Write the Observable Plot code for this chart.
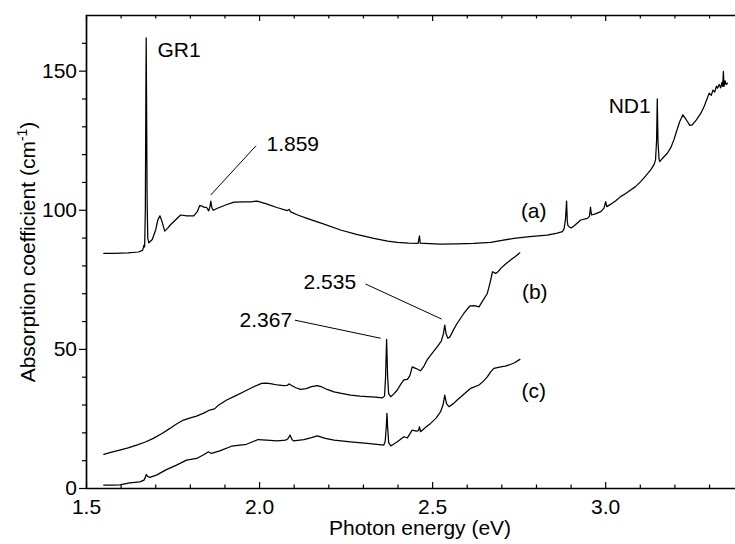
<!DOCTYPE html>
<html>
<head>
<meta charset="utf-8">
<script src="https://cdn.jsdelivr.net/npm/d3@7"></script>
<script src="https://cdn.jsdelivr.net/npm/@observablehq/plot@0.6"></script>
<style>
  html, body { margin: 0; padding: 0; background: #fff; }
</style>
</head>
<body>
<div id="chart"></div>
<script>
// ---- Data ----
const energyA = [1.550,1.580,1.620,1.650,1.662,1.666,1.668,1.670,1.6715,1.6725,1.6735,1.675,1.677,1.680,1.690,1.700,1.706,1.712,1.718,1.726,1.734,1.742,1.757,1.772,1.790,1.810,1.820,1.827,1.834,1.840,1.847,1.853,1.857,1.859,1.862,1.866,1.880,1.900,1.926,1.954,1.974,1.993,2.020,2.050,2.080,2.085,2.090,2.110,2.137,2.180,2.234,2.280,2.330,2.370,2.398,2.430,2.458,2.460,2.462,2.464,2.490,2.523,2.570,2.619,2.668,2.700,2.735,2.780,2.831,2.860,2.875,2.880,2.884,2.887,2.889,2.891,2.894,2.900,2.910,2.928,2.947,2.953,2.956,2.959,2.970,2.986,2.995,3.000,3.003,3.015,3.030,3.043,3.058,3.072,3.086,3.101,3.115,3.130,3.140,3.144,3.147,3.149,3.151,3.154,3.156,3.165,3.178,3.188,3.197,3.205,3.214,3.223,3.230,3.236,3.243,3.250,3.262,3.275,3.285,3.299,3.305,3.310,3.315,3.320,3.323,3.328,3.332,3.336,3.338,3.340,3.342,3.345,3.348,3.352];
const absA = [84.5,84.5,84.7,85.0,85.6,87.5,86.8,100,140,162,140,105,90,88.3,89.5,93,96.5,98,96,92.5,93.5,94.7,96.5,98.3,98.0,98.0,99.5,101.7,101.5,101.0,101.0,99.8,101.5,103.3,101,100.0,100.8,101.8,102.9,103.0,103.0,103.3,102.3,101.0,99.9,100.3,99.4,98.3,97.1,95.3,92.9,91.3,89.9,88.9,88.5,88.2,88.1,89.5,90.8,88.2,88.0,87.8,87.9,88.1,88.5,89.2,89.9,90.5,91.1,91.8,92.3,93.5,97,103.3,96,94.5,94.1,93.6,94.5,96.5,97.1,97.8,101.1,98.3,98.7,99.5,100.8,103.1,101.3,102.2,103.5,104.9,106,107.3,108.5,110.3,112.3,114.5,116.5,118.1,125,140.0,125,118.5,117.5,118.8,120.5,122.5,125.3,128.5,131.9,134.3,133,131.9,130.5,130.7,132.5,134.9,137.5,142.1,141.3,143.2,142.5,144.6,143.9,145.2,144.0,146.0,144.5,149.9,144.5,146.5,145.2,145.7];

const energyB = [1.550,1.570,1.596,1.620,1.645,1.670,1.693,1.717,1.741,1.760,1.780,1.800,1.818,1.840,1.856,1.870,1.880,1.905,1.930,1.953,1.980,2.006,2.020,2.035,2.051,2.070,2.080,2.086,2.092,2.105,2.118,2.135,2.150,2.167,2.180,2.195,2.215,2.240,2.263,2.290,2.311,2.335,2.355,2.361,2.364,2.367,2.370,2.373,2.379,2.388,2.398,2.408,2.417,2.427,2.434,2.441,2.451,2.465,2.475,2.484,2.500,2.513,2.525,2.531,2.535,2.539,2.544,2.550,2.560,2.571,2.590,2.600,2.608,2.620,2.634,2.645,2.658,2.666,2.673,2.682,2.690,2.697,2.710,2.725,2.738,2.752];
const absB = [12.3,13.0,13.8,14.6,15.6,16.7,18.0,19.7,21.6,23.2,24.6,25.4,26.0,27.2,28.2,28.6,29.8,31.8,33.3,34.7,36.4,37.8,37.9,37.6,37.2,37.0,37.1,37.6,37.0,36.2,35.6,35.9,36.6,37.0,36.5,35.6,34.7,34.1,33.6,33.2,33.0,32.8,32.6,33.2,40,53.6,40,34,33.0,34.0,35.4,37.5,39.0,39.2,40.5,43.7,43.2,42.3,44.0,46.2,48.8,50.9,53.0,55.5,58.7,55.5,54.0,54.5,57.0,59.4,62.9,64.5,65.6,65.7,65.3,67.5,70.1,74.0,77.9,77.3,78.0,79.1,80.6,82.1,83.3,84.7];

const energyC = [1.550,1.575,1.596,1.625,1.654,1.666,1.670,1.673,1.677,1.683,1.702,1.731,1.760,1.789,1.818,1.840,1.852,1.861,1.885,1.919,1.962,1.996,2.020,2.051,2.075,2.082,2.088,2.094,2.099,2.128,2.150,2.167,2.190,2.215,2.263,2.311,2.359,2.363,2.366,2.368,2.370,2.373,2.379,2.398,2.417,2.427,2.441,2.453,2.459,2.462,2.465,2.480,2.494,2.510,2.523,2.530,2.535,2.540,2.547,2.560,2.571,2.590,2.610,2.634,2.646,2.658,2.668,2.677,2.697,2.710,2.721,2.738,2.752];
const absC = [1.2,1.2,1.3,2.0,2.4,3.0,4.0,5.0,4.3,4.0,4.8,6.8,8.4,10.2,10.8,12.2,13.2,12.6,13.5,15.2,15.9,17.6,17.4,17.1,17.4,17.9,19.2,17.5,17.1,17.6,18.3,18.9,18.0,17.4,16.8,16.2,15.6,17,22,27.0,22,16.5,15.3,16.8,18.6,18.2,21.0,20.6,20.8,22.2,20.4,22.0,23.4,25.3,27.6,30.0,33.6,30.5,29.4,30.5,31.8,33.9,36.0,37.2,38.5,40.1,42.0,43.2,43.7,44.0,44.4,45.3,46.4];

// annotation texts and anchor points
const labelText   = ["GR1", "1.859", "ND1", "(a)", "(b)", "(c)", "2.535", "2.367"];
const labelEnergy = [1.705, 2.020, 3.130, 2.792, 2.795, 2.792, 2.127, 2.094];
const labelAbs    = [157.6, 123.6, 137.2, 99.8, 70.4, 35.1, 74.0, 60.3];
const labelAnchor = ["start", "start", "end", "middle", "middle", "middle", "start", "end"];

// leader lines
const leaderE1 = [1.859, 2.350, 2.526];
const leaderA1 = [105.5, 54.0, 60.9];
const leaderE2 = [1.990, 2.102, 2.306];
const leaderA2 = [123.2, 60.5, 73.5];

// axis ticks
const xMajorTicks = [1.5, 2.0, 2.5, 3.0];
const xMinorTicks = [1.6, 1.7, 1.8, 1.9, 2.1, 2.2, 2.3, 2.4, 2.6, 2.7, 2.8, 2.9, 3.1, 3.2, 3.3];
const yMajorTicks = [0, 50, 100, 150];
const yMinorTicks = [10, 20, 30, 40, 60, 70, 80, 90, 110, 120, 130, 140, 160];

const xLabel = "Photon energy (eV)";
const yLabel = "Absorption coefficient (cm-1)";

// ---- Build tables ----
const toRows = (xs, ys) => xs.map((x, i) => ({x, y: ys[i]}));
const dataA = toRows(energyA, absA);
const dataB = toRows(energyB, absB);
const dataC = toRows(energyC, absC);
const labels = labelText.map((t, i) => ({t, x: labelEnergy[i], y: labelAbs[i], a: labelAnchor[i]}));
const leaders = leaderE1.map((x1, i) => ({x1, y1: leaderA1[i], x2: leaderE2[i], y2: leaderA2[i]}));

const W = 735, H = 544, mT = 15, mB = 56, mL = 86, mR = 0;
const frameH = H - mT - mB;
const FONT = "'Liberation Sans', Arial, Helvetica, sans-serif";
const FS = 21;

const chart = Plot.plot({
  width: W, height: H,
  marginTop: mT, marginBottom: mB, marginLeft: mL, marginRight: mR,
  style: {fontFamily: FONT, fontSize: FS + "px", background: "white", color: "black"},
  x: {domain: [1.5, 3.375], label: null},
  y: {domain: [0, 170], label: null},
  marks: [
    // frame lines
    Plot.ruleY([0], {stroke: "black", strokeWidth: 1.7}),
    Plot.ruleY([170], {stroke: "black", strokeWidth: 1.4}),
    Plot.ruleX([1.5], {stroke: "black", strokeWidth: 1.7}),
    // inward ticks, bottom
    Plot.tickX(xMajorTicks, {x: d => d, stroke: "black", strokeWidth: 1.2, insetTop: frameH - 6}),
    Plot.tickX(xMinorTicks, {x: d => d, stroke: "black", strokeWidth: 1.2, insetTop: frameH - 3.5}),
    // inward ticks, top
    Plot.tickX(xMajorTicks, {x: d => d, stroke: "black", strokeWidth: 1.2, insetBottom: frameH - 6}),
    Plot.tickX(xMinorTicks, {x: d => d, stroke: "black", strokeWidth: 1.2, insetBottom: frameH - 3.5}),
    // x tick labels
    Plot.axisX(xMajorTicks, {tickSize: 0, tickPadding: 10.5, fontSize: FS, tickFormat: d3.format(".1f"), label: null}),
    // y axis (outward ticks)
    Plot.axisY(yMajorTicks, {tickSize: 7, tickPadding: 2.5, fontSize: FS, strokeWidth: 1.2, label: null}),
    Plot.axisY(yMinorTicks, {tickSize: 4, tickFormat: () => "", strokeWidth: 1.2, label: null}),
    // axis titles
    Plot.text([xLabel], {text: d => d, frameAnchor: "bottom", textAnchor: "middle", lineAnchor: "middle", dx: 9, dy: 40, fontSize: 21}),
    Plot.text([yLabel], {text: d => d, frameAnchor: "left", textAnchor: "middle", lineAnchor: "middle", dx: -58, rotate: -90, fontSize: 21}),
    // spectra
    Plot.line(dataA, {x: "x", y: "y", stroke: "black", strokeWidth: 1.25}),
    Plot.line(dataB, {x: "x", y: "y", stroke: "black", strokeWidth: 1.25}),
    Plot.line(dataC, {x: "x", y: "y", stroke: "black", strokeWidth: 1.25}),
    // leader lines
    Plot.link(leaders, {x1: "x1", y1: "y1", x2: "x2", y2: "y2", stroke: "black", strokeWidth: 1}),
    // annotations
    Plot.text(labels, {x: "x", y: "y", text: "t", fontSize: FS}),
  ]
});

document.getElementById("chart").appendChild(chart);
const svg = d3.select(chart);
svg.selectAll("text").each(function () {
  const el = d3.select(this);
  const txt = this.textContent;
  const i = labelText.indexOf(txt);
  if (i >= 0) el.attr("text-anchor", labelAnchor[i]);
  if (txt === yLabel) {
    el.text(null);
    el.append("tspan").text("Absorption coefficient (cm");
    el.append("tspan").attr("font-size", 14).attr("dy", "-0.6em").text("-1");
    el.append("tspan").attr("dy", "0.4em").text(")");
  }
});
</script>
</body>
</html>
